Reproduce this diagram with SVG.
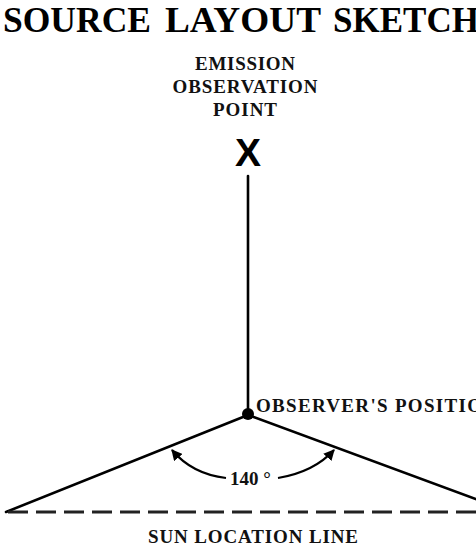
<svg xmlns="http://www.w3.org/2000/svg" width="476" height="547" viewBox="0 0 476 547">
  <style>
    .title { font-family: "Liberation Serif", "Times New Roman", serif; font-weight: bold; font-size: 35px; fill: #000; }
    .lbl { font-family: "Liberation Serif", "Times New Roman", serif; font-weight: bold; font-size: 19px; fill: #111; }
    .mark { font-family: "Liberation Sans", Arial, sans-serif; font-weight: bold; font-size: 39px; fill: #000; }
    .ln { stroke: #000; stroke-width: 2.6; fill: none; stroke-linecap: round; }
    .dash { stroke: #222; stroke-width: 3; fill: none; stroke-dasharray: 20 8; }
    .arc { stroke: #000; stroke-width: 2.2; fill: none; }
  </style>
  <defs>
    <marker id="arrow" viewBox="0 0 10 10" refX="9" refY="5" markerWidth="5" markerHeight="5" orient="auto" markerUnits="strokeWidth">
      <path d="M0,0 L10,5 L0,10 z" fill="#000"/>
    </marker>
  </defs>
  <rect width="476" height="547" fill="#fff"/>

  <g id="title">
    <text class="title" x="3" y="32" textLength="148" lengthAdjust="spacingAndGlyphs">SOURCE</text>
    <text class="title" x="165" y="32" textLength="156" lengthAdjust="spacingAndGlyphs">LAYOUT</text>
    <text class="title" x="333" y="32">SKETCH</text>
  </g>

  <g id="connectors">
    <line class="ln" x1="248" y1="176" x2="248" y2="415"/>
    <line class="ln" x1="248" y1="415" x2="6" y2="512"/>
    <line class="ln" x1="248" y1="415" x2="500" y2="508"/>
    <line class="dash" x1="8" y1="512" x2="476" y2="512"/>
    <path class="arc" d="M226,478 Q192,474 172,450" marker-end="url(#arrow)"/>
    <path class="arc" d="M278,478 Q314,472 334,450" marker-end="url(#arrow)"/>
  </g>

  <g id="emission-point">
    <text class="lbl" text-anchor="middle" x="245" y="70" textLength="100" lengthAdjust="spacing">EMISSION</text>
    <text class="lbl" text-anchor="middle" x="245" y="93" textLength="145" lengthAdjust="spacing">OBSERVATION</text>
    <text class="lbl" text-anchor="middle" x="245" y="116" textLength="64" lengthAdjust="spacing">POINT</text>
    <text class="mark" text-anchor="middle" x="248" y="166">X</text>
  </g>

  <g id="observer">
    <circle cx="248" cy="414" r="6" fill="#000"/>
    <text class="lbl" x="256" y="412" textLength="241" lengthAdjust="spacing">OBSERVER'S POSITION</text>
  </g>

  <g id="angle">
    <text class="lbl" x="230" y="485">140 °</text>
  </g>

  <g id="sun-line">
    <text class="lbl" text-anchor="middle" x="253" y="543" textLength="210" lengthAdjust="spacing">SUN LOCATION LINE</text>
  </g>
</svg>
